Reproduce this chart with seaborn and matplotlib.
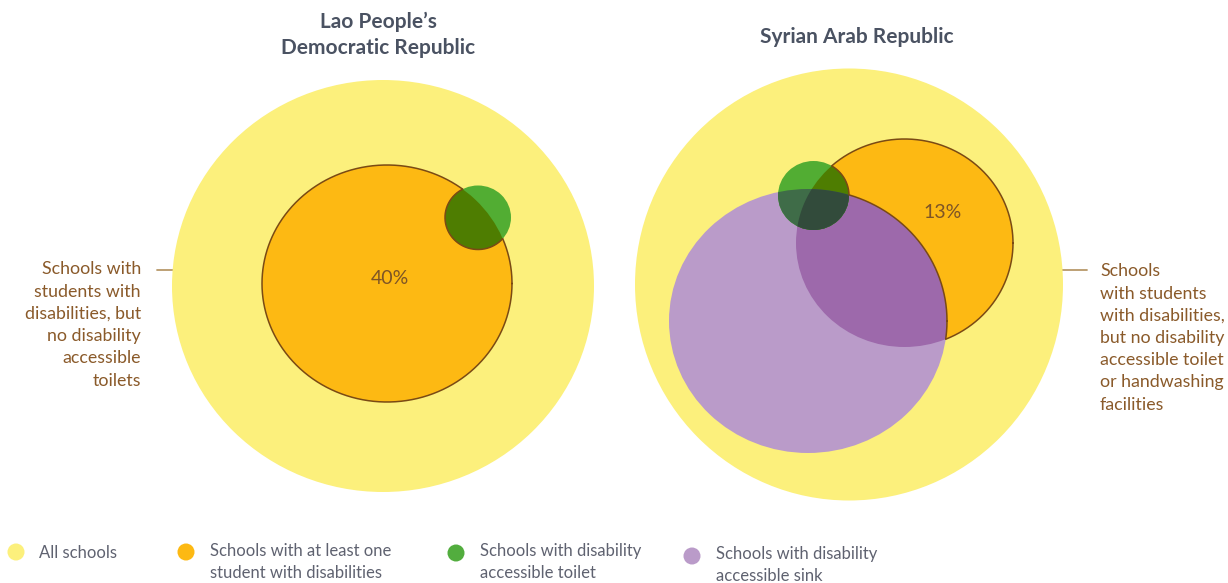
import numpy as np
import matplotlib
matplotlib.use("Agg")
import matplotlib.pyplot as plt
from matplotlib.patches import Ellipse, Polygon
import seaborn as sns
import pandas as pd

sns.set_theme(style="white")
plt.rcParams['font.family'] = ['Lato', 'DejaVu Sans']

# ---------------- data ----------------
countries = ["Lao People\u2019s\nDemocratic Republic", "Syrian Arab Republic"]
pct_labels = ["40%", "13%"]
callouts = ["Schools with\nstudents with\ndisabilities, but\nno disability\naccessible\ntoilets",
            "Schools\nwith students\nwith disabilities,\nbut no disability\naccessible toilet\nor handwashing\nfacilities"]
legend_labels = ["All schools", "Schools with at least one\nstudent with disabilities",
                 "Schools with disability\naccessible toilet", "Schools with disability\naccessible sink"]
legend_colors = ["#FCF07C", "#FDB913", "#52AD3E", "#BA9BC9"]

# circle sets (centre x, centre y, radius x, radius y) in pixel-like units
lao_all = (383, 286, 211, 206)
lao_swd = (387, 283.5, 125, 118.5)
lao_toilet = (478, 217.5, 33, 32)
syr_all = (849, 284.5, 214, 216)
syr_swd = (904.5, 243, 108.5, 104)
syr_toilet = (813.5, 195.5, 35.5, 34.5)
syr_sink = (808, 321, 139, 132)

YEL = "#FCF07C"; ORA = "#FDB913"; GRN = "#52AD33"; PUR = "#BA9BC9"
PUR_ORA = "#9D69AB"; GRN_ORA = "#4E7D01"; GRN_PUR = "#3F6C48"; GRN_PUR_ORA = "#324B3B"
OUTLINE = "#7A4A14"
BROWN = "#8A5A2A"; TITLE = "#4A5262"; LEG = "#5F6270"; LEADER = "#B8986A"; PCT = "#7E5526"

W, H = 1228, 583
fig = plt.figure(figsize=(W / 100, H / 100), dpi=100)
ax = fig.add_axes([0, 0, 1, 1])
ax.set_xlim(0, W)
ax.set_ylim(H, 0)
ax.axis("off")


def ell(c, color, z, clip=None):
    e = Ellipse((c[0], c[1]), 2 * c[2], 2 * c[3], facecolor=color, edgecolor="none", zorder=z)
    ax.add_patch(e)
    if clip is not None:
        e.set_clip_path(clip)
    return e


def inside(c, x, y):
    return ((x - c[0]) / c[2]) ** 2 + ((y - c[1]) / c[3]) ** 2 <= 1.0


def boundary(c, n=2000):
    t = np.linspace(0, 2 * np.pi, n)
    return c[0] + c[2] * np.cos(t), c[1] + c[3] * np.sin(t)


def lens(a, b):
    xa, ya = boundary(a)
    xb, yb = boundary(b)
    ma = inside(b, xa, ya)
    mb = inside(a, xb, yb)
    xs = np.concatenate([xa[ma], xb[mb]])
    ys = np.concatenate([ya[ma], yb[mb]])
    cx, cy = xs.mean(), ys.mean()
    order = np.argsort(np.arctan2(ys - cy, xs - cx))
    return Polygon(np.column_stack([xs[order], ys[order]]), closed=True,
                   transform=ax.transData, facecolor="none", edgecolor="none")


def draw_outline(main, others):
    # boundary of main minus union(others)
    segs = []
    xm, ym = boundary(main)
    keep = np.ones_like(xm, bool)
    for o in others:
        keep &= ~inside(o, xm, ym)
    segs.append((xm, ym, keep))
    for i, o in enumerate(others):
        xo, yo = boundary(o)
        k = inside(main, xo, yo)
        for j, o2 in enumerate(others):
            if j != i:
                k &= ~inside(o2, xo, yo)
        segs.append((xo, yo, k))
    for x, y, k in segs:
        xx = np.where(k, x, np.nan)
        yy = np.where(k, y, np.nan)
        ax.plot(xx, yy, color=OUTLINE, lw=1.1, zorder=20, solid_capstyle="round")


# ---- Lao ----
ell(lao_all, YEL, 1)
o1 = ell(lao_swd, ORA, 2)
ell(lao_toilet, GRN, 5)
ell(lao_toilet, GRN_ORA, 6, clip=o1)
draw_outline(lao_swd, [lao_toilet])

# ---- Syria ----
ell(syr_all, YEL, 1)
o2 = ell(syr_swd, ORA, 2)
p2 = ell(syr_sink, PUR, 3)
ell(syr_sink, PUR_ORA, 4, clip=o2)
ell(syr_toilet, GRN, 5)
ell(syr_toilet, GRN_ORA, 6, clip=o2)
ell(syr_toilet, GRN_PUR, 7, clip=p2)
lp = lens(syr_swd, syr_sink)
ax.add_patch(lp)
ell(syr_toilet, GRN_PUR_ORA, 8, clip=lp)
draw_outline(syr_swd, [syr_toilet, syr_sink])

# ---- titles ----
ax.text(378, 35, countries[0], ha="center", va="center", fontsize=15, fontweight="bold",
        color=TITLE, linespacing=1.4)
ax.text(857, 37, countries[1], ha="center", va="center", fontsize=15, fontweight="bold",
        color=TITLE)

# ---- percentages ----
ax.text(390, 279, pct_labels[0], ha="center", va="center", fontsize=14, color=PCT, zorder=30)
ax.text(943, 213, pct_labels[1], ha="center", va="center", fontsize=14, color=PCT, zorder=30)

# ---- callouts ----
ax.plot([157, 262], [270, 270], color=LEADER, lw=1.3, zorder=0.5)
ax.text(141, 325, callouts[0], ha="right", va="center", fontsize=12.8, color=BROWN, linespacing=1.48)
ax.plot([1013, 1087], [270, 270], color=LEADER, lw=1.3, zorder=0.5)
ax.text(1100, 338, callouts[1], ha="left", va="center", fontsize=12.8, color=BROWN, linespacing=1.48)

# ---- legend ----
leg = pd.DataFrame({"x": [16, 186, 456, 692], "y": [552, 552, 553, 556], "label": legend_labels})
sns.scatterplot(data=leg, x="x", y="y", hue="label", palette=legend_colors, s=150,
                edgecolor="none", legend=False, ax=ax, zorder=10)
text_x = [39, 210, 480, 716]
text_y = [553, 562, 562, 565]
for tx, ty, lab in zip(text_x, text_y, legend_labels):
    ax.text(tx, ty, lab, ha="left", va="center", fontsize=12, color=LEG, linespacing=1.46)
ax.set_xlim(0, W)
ax.set_ylim(H, 0)
ax.axis("off")

fig.savefig("out.png", dpi=100)
